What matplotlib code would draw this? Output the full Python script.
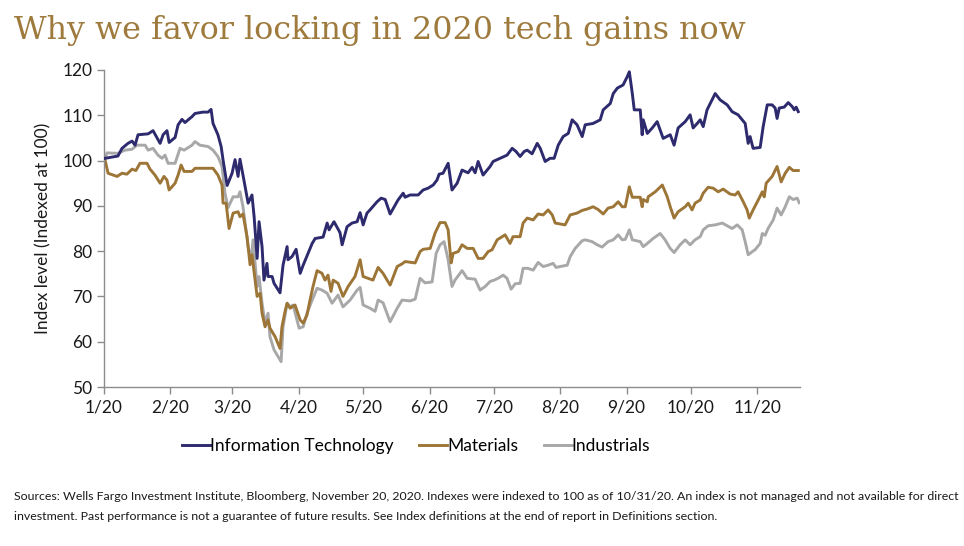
import matplotlib
matplotlib.use("Agg")
import matplotlib.pyplot as plt
import pandas as pd
import numpy as np

# ---- data (days since 2020-01-01, index level) ----
it_days = [0.5, 2.8, 6.5, 8.4, 11.2, 13.1, 14.5, 15.9, 20.6, 22.9, 26.2, 27.6, 29.4, 30.4, 33.2, 34.6,
           36.4, 37.8, 41.1, 42.5, 46.2, 48.6, 50.0, 50.9, 53.2, 54.7, 55.6, 57.5, 59.8, 61.2, 62.6,
           63.5, 64.9, 67.3, 69.1, 70.1, 71.5, 72.4, 73.8, 74.7, 76.1, 76.6, 78.5, 79.4, 82.2, 83.6,
           85.5, 85.9, 87.8, 89.7, 91.6, 93.0, 95.3, 97.2, 98.6, 102.3, 104.2, 105.1, 107.4, 110.2,
           111.2, 113.5, 115.8, 118.2, 119.6, 121.0, 122.8, 124.2, 127.5, 129.4, 131.3, 133.6, 137.3,
           139.7, 140.6, 142.9, 146.7, 149.0, 151.3, 153.7, 155.5, 156.5, 158.3, 160.7, 162.5, 164.9,
           167.2, 170.0, 171.9, 173.3, 174.7, 177.0, 180.3, 181.7, 185.0, 188.2, 190.6, 192.4, 194.3,
           196.2, 197.6, 199.9, 202.3, 203.7, 206.0, 208.3, 210.2, 212.1, 214.4, 216.8, 218.6, 220.9,
           223.3, 224.7, 228.4, 231.7, 233.1, 236.4, 237.8, 239.7, 242.4, 244.3, 245.3, 246.7, 247.6,
           250.4, 251.3, 251.8, 253.7, 256.0, 258.3, 261.1, 264.4, 266.2, 268.1, 271.4, 273.7, 275.1,
           277.0, 278.4, 279.8, 281.6, 285.4, 287.7, 291.0, 293.3, 296.1, 299.4, 300.8, 301.7, 303.1,
           306.4, 307.8, 309.7, 312.0, 313.4, 314.3, 315.3, 317.6, 319.5, 321.4, 322.3, 323.2, 324.2]
it_vals = [100.5, 100.7, 101.0, 102.7, 103.8, 104.3, 103.4, 105.7, 105.9, 106.6, 103.8, 105.7, 106.6,
           104.0, 105.1, 107.9, 109.1, 108.4, 109.7, 110.4, 110.7, 110.7, 111.3, 108.2, 105.7, 103.1,
           100.1, 94.5, 97.2, 100.2, 96.5, 100.3, 96.8, 90.6, 92.4, 87.6, 78.4, 86.5, 81.0, 73.6, 77.3,
           74.4, 74.4, 72.9, 70.8, 76.9, 81.0, 78.1, 78.8, 80.4, 75.1, 76.9, 79.5, 81.7, 82.8, 83.1,
           86.2, 84.7, 86.5, 84.1, 81.4, 85.4, 86.2, 86.5, 88.5, 85.8, 88.4, 89.1, 90.9, 91.7, 91.4,
           88.2, 91.3, 92.8, 91.9, 92.4, 92.4, 93.5, 93.9, 94.6, 95.7, 97.0, 97.2, 99.4, 93.5, 95.0,
           97.9, 97.3, 98.5, 97.3, 99.8, 96.8, 98.7, 99.8, 100.5, 101.2, 102.7, 102.0, 100.9, 102.0,
           102.3, 101.5, 103.8, 102.7, 99.8, 100.5, 100.5, 103.4, 105.3, 106.0, 109.0, 107.9, 105.3,
           107.9, 108.2, 109.0, 111.2, 112.6, 114.8, 116.0, 116.7, 118.5, 119.6, 114.8, 111.2, 111.2,
           105.7, 109.0, 106.0, 107.2, 108.6, 104.9, 105.7, 103.4, 107.2, 108.6, 110.1, 107.2, 108.2,
           109.0, 107.5, 111.2, 114.8, 113.4, 112.3, 110.8, 110.1, 108.2, 103.8, 105.3, 102.7, 102.9,
           107.5, 112.3, 112.3, 111.6, 109.3, 111.6, 111.8, 112.8, 111.9, 111.2, 111.8, 110.8]

mat_days = [0.5, 1.9, 6.1, 8.4, 10.7, 13.1, 14.9, 16.8, 20.1, 21.5, 23.8, 26.2, 28.0, 29.4, 30.4, 33.2,
            34.6, 36.0, 37.4, 41.1, 42.5, 47.2, 50.9, 53.2, 55.1, 55.6, 57.0, 58.4, 60.3, 62.6, 63.5,
            64.9, 66.8, 68.2, 69.1, 71.5, 72.9, 73.8, 75.2, 76.6, 77.5, 79.9, 82.2, 83.1, 84.5, 85.5,
            86.9, 89.2, 91.6, 93.0, 94.8, 96.2, 97.6, 99.5, 101.8, 103.2, 104.6, 106.0, 107.0, 109.3,
            111.6, 114.0, 117.2, 119.6, 121.0, 123.3, 125.6, 128.0, 130.3, 133.6, 136.9, 139.2, 140.6,
            145.3, 147.6, 149.0, 152.3, 154.6, 156.9, 159.3, 160.7, 162.1, 163.0, 165.4, 167.2, 169.6,
            172.4, 174.7, 177.0, 179.4, 181.2, 183.6, 187.3, 189.6, 191.0, 194.3, 195.7, 197.6, 200.4,
            202.7, 205.1, 207.4, 209.3, 210.7, 213.0, 215.3, 217.7, 220.9, 223.3, 225.6, 228.4, 230.7,
            233.1, 235.4, 237.8, 240.1, 242.0, 243.4, 245.3, 246.7, 250.4, 251.3, 251.8, 253.7, 254.1,
            257.4, 260.7, 263.0, 264.4, 266.2, 268.1, 271.4, 272.8, 274.6, 276.0, 278.4, 279.8, 282.1,
            284.5, 286.8, 289.1, 292.4, 294.7, 296.1, 298.5, 300.3, 301.3, 303.1, 305.5, 307.4, 308.3,
            309.2, 312.0, 314.3, 316.2, 318.1, 320.0, 321.8, 324.2]
mat_vals = [100.1, 97.2, 96.5, 97.2, 97.0, 98.1, 97.8, 99.4, 99.4, 98.1, 96.8, 95.0, 96.5, 95.7, 93.5,
            95.0, 96.8, 99.0, 97.6, 97.6, 98.3, 98.3, 98.3, 96.8, 94.6, 90.6, 90.6, 85.0, 88.4, 88.7,
            87.6, 88.2, 83.2, 77.0, 79.2, 70.0, 70.7, 66.3, 63.3, 64.8, 63.0, 61.1, 58.5, 63.3, 66.6,
            68.5, 67.4, 68.1, 64.8, 64.1, 65.9, 69.2, 72.2, 75.7, 75.1, 73.6, 74.7, 71.1, 73.6, 72.9,
            70.0, 72.2, 74.4, 78.1, 74.4, 74.0, 73.6, 76.4, 75.1, 72.5, 76.6, 77.2, 77.7, 77.4, 79.9,
            80.4, 80.6, 84.0, 86.3, 86.3, 84.7, 77.4, 79.5, 79.9, 81.4, 80.6, 80.6, 78.4, 78.4, 79.9,
            80.3, 82.5, 83.6, 81.7, 83.2, 83.2, 86.2, 87.3, 86.9, 88.2, 88.0, 89.1, 88.0, 86.2, 86.0,
            85.8, 88.0, 88.4, 89.0, 89.3, 89.8, 89.2, 88.2, 89.5, 89.8, 90.9, 89.8, 89.8, 94.2, 91.9,
            91.9, 89.8, 91.4, 90.9, 92.0, 93.1, 94.6, 92.0, 89.8, 87.3, 88.7, 89.8, 90.6, 89.1, 90.6,
            91.3, 92.8, 94.1, 93.9, 93.1, 93.7, 92.6, 92.4, 93.1, 90.9, 89.1, 87.3, 89.1, 91.3, 93.1,
            92.0, 95.0, 96.5, 98.7, 95.3, 97.2, 98.5, 97.8, 97.8]

ind_days = [0.5, 1.4, 6.5, 9.8, 13.1, 15.4, 19.2, 20.6, 22.9, 25.2, 27.1, 28.5, 29.9, 33.2, 35.5, 37.4,
            41.1, 42.5, 44.8, 48.6, 50.9, 53.2, 55.1, 56.5, 57.9, 60.3, 62.6, 63.5, 64.9, 67.3, 68.7,
            69.6, 71.5, 72.4, 73.8, 75.2, 76.6, 77.5, 79.4, 82.7, 83.6, 85.5, 86.9, 88.3, 91.1, 93.0,
            94.8, 97.2, 99.5, 101.8, 104.2, 106.5, 109.3, 111.6, 114.9, 118.2, 119.6, 121.0, 124.2,
            126.6, 128.0, 130.3, 133.6, 136.9, 139.2, 142.9, 145.3, 147.6, 149.9, 153.2, 155.1, 156.9,
            158.8, 160.7, 162.5, 163.9, 167.2, 169.6, 173.3, 175.6, 178.0, 180.3, 182.2, 184.0, 186.4,
            188.2, 190.1, 192.0, 194.3, 195.7, 198.0, 200.4, 202.7, 205.1, 207.4, 209.7, 211.1, 213.0,
            216.3, 217.7, 220.0, 223.3, 224.7, 227.9, 230.3, 232.6, 235.4, 237.8, 240.1, 242.0, 243.4,
            245.3, 246.7, 250.4, 251.8, 253.7, 256.4, 259.7, 262.0, 264.4, 266.2, 269.0, 271.4, 273.7,
            276.0, 278.4, 279.8, 282.1, 285.4, 288.7, 291.0, 293.3, 295.7, 298.0, 299.4, 300.8, 302.7,
            304.0, 306.4, 307.4, 308.7, 310.1, 312.5, 314.3, 316.2, 318.1, 320.0, 321.8, 323.7, 324.6]
ind_vals = [100.5, 101.7, 101.6, 102.3, 102.5, 103.4, 103.4, 102.3, 102.7, 101.2, 100.5, 101.2, 99.4,
            99.4, 102.7, 102.3, 103.4, 104.2, 103.4, 103.1, 102.3, 100.9, 98.7, 92.8, 89.6, 92.0, 92.0,
            93.1, 89.8, 81.0, 78.1, 82.5, 72.2, 74.4, 68.5, 64.1, 66.3, 61.1, 58.2, 55.6, 63.3, 68.5,
            67.7, 68.1, 63.0, 63.3, 66.3, 69.2, 71.8, 71.4, 70.7, 68.5, 70.3, 67.7, 69.2, 71.4, 72.0,
            68.1, 67.4, 66.7, 69.2, 68.6, 64.4, 67.4, 69.2, 69.0, 69.4, 74.0, 73.0, 73.2, 79.5, 81.4,
            82.1, 78.1, 72.2, 73.6, 75.7, 74.0, 73.8, 71.4, 72.2, 73.3, 73.6, 74.0, 74.7, 74.0, 71.6,
            72.8, 72.9, 76.2, 76.2, 75.8, 77.5, 76.6, 76.9, 77.3, 76.4, 76.6, 76.9, 78.8, 80.6, 82.3,
            82.5, 82.1, 81.4, 80.9, 82.1, 82.5, 83.6, 82.5, 82.6, 84.7, 82.5, 82.1, 81.0, 81.7, 82.8,
            83.9, 82.5, 80.6, 79.7, 81.4, 82.5, 81.4, 82.5, 83.2, 84.7, 85.6, 85.8, 86.2, 85.6, 85.0,
            85.8, 84.7, 82.1, 79.2, 79.9, 80.3, 81.7, 83.9, 83.5, 85.0, 86.9, 89.5, 88.0, 89.8, 92.0,
            91.4, 91.7, 90.7]

series_names = ["Information Technology", "Materials", "Industrials"]
series_colors = ["#2D2A6E", "#9C7537", "#A8A8A8"]

month_ticks = ["2020-01-01", "2020-02-01", "2020-03-01", "2020-04-01", "2020-05-01", "2020-06-01",
               "2020-07-01", "2020-08-01", "2020-09-01", "2020-10-01", "2020-11-01"]
month_labels = ["1/20", "2/20", "3/20", "4/20", "5/20", "6/20", "7/20", "8/20", "9/20", "10/20", "11/20"]
y_ticks = [50, 60, 70, 80, 90, 100, 110, 120]

title = "Why we favor locking in 2020 tech gains now"
ylabel = "Index level (Indexed at 100)"
footnote = ("Sources: Wells Fargo Investment Institute, Bloomberg, November 20, 2020. Indexes were indexed to 100 as of 10/31/20. "
            "An index is not managed and not available for direct\n"
            "investment. Past performance is not a guarantee of future results. See Index definitions at the end of report in Definitions section.")

# ---- plotting ----
base = pd.Timestamp("2020-01-01")
def to_dates(days):
    return base + pd.to_timedelta(np.asarray(days), unit="D")

plt.rcParams["font.family"] = ["Lato", "DejaVu Sans"]
fig = plt.figure(figsize=(9.64, 5.46), dpi=100)
ax = fig.add_axes([104 / 964, 1 - 387 / 546, (800 - 104) / 964, (387 - 70) / 546])

for days, vals, name, col in zip([it_days, mat_days, ind_days], [it_vals, mat_vals, ind_vals],
                                 series_names, series_colors):
    ax.plot(to_dates(days), vals, color=col, lw=2.1, label=name, solid_joinstyle="round")

# draw order: IT on top
for ln, z in zip(ax.lines, [3, 2, 1]):
    ln.set_zorder(z)

ax.set_xlim(base, base + pd.Timedelta(days=325))
ax.set_ylim(50, 120)
ax.set_yticks(y_ticks)
ax.set_xticks(pd.to_datetime(month_ticks))
ax.set_xticklabels(month_labels)
for s in ["top", "right"]:
    ax.spines[s].set_visible(False)
for s in ["left", "bottom"]:
    ax.spines[s].set_color("#8C8C8C")
    ax.spines[s].set_linewidth(1.0)
ax.tick_params(axis="both", colors="#8C8C8C", labelcolor="#1A1A1A", labelsize=12.5, length=5, width=1)
ax.tick_params(axis="x", pad=4)
ax.set_ylabel(ylabel, fontsize=12.5, color="#1A1A1A", labelpad=8)

fig.text(14 / 964, 1 - 31 / 546, title, fontsize=22.9, color="#9E7A3C", va="center", ha="left",
         family=["DejaVu Serif"])

leg = fig.legend(loc="center", bbox_to_anchor=(416 / 964, 1 - 446 / 546), ncol=3, frameon=False,
                 fontsize=12.5, handlelength=1.6, handletextpad=0.0, columnspacing=1.5)

fig.text(14 / 964, 1 - 506 / 546, footnote, fontsize=8.9, color="#1A1A1A", va="center", ha="left",
         linespacing=2.0, family=["Lato", "DejaVu Sans"])

fig.savefig("out.png", dpi=100, facecolor="white")
